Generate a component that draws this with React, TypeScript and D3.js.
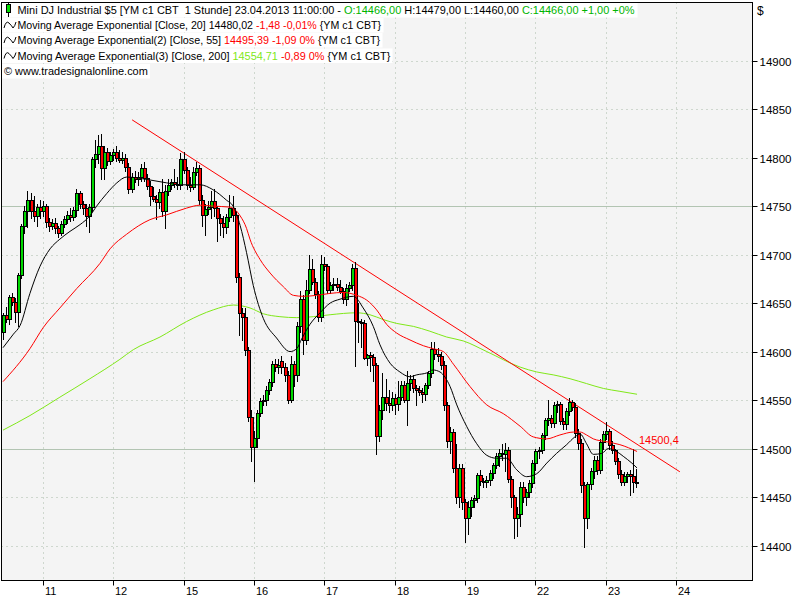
import React, { useLayoutEffect, useRef } from "react";
import * as d3 from "d3";

// ---------- DATA ----------
// hourly candles: [open, high, low, close]
const candles: [number, number, number, number][] = [
  [14620,14640,14613,14638],[14638,14646,14630,14634],[14634,14658,14628,14656],[14656,14660,14648,14651],
  [14651,14655,14630,14641],[14641,14681,14626,14679],[14679,14732,14676,14730],[14730,14750,14722,14745],
  [14745,14766,14728,14756],[14756,14764,14738,14745],[14745,14760,14735,14740],[14740,14752,14730,14749],
  [14749,14756,14738,14745],[14745,14755,14740,14750],[14750,14752,14728,14734],[14734,14738,14724,14730],
  [14730,14737,14726,14733],[14733,14738,14722,14727],[14727,14730,14718,14722],[14722,14735,14720,14732],
  [14732,14740,14728,14737],[14737,14745,14733,14741],[14741,14748,14735,14739],[14739,14749,14736,14746],
  [14746,14768,14740,14764],[14764,14766,14748,14752],[14752,14755,14742,14748],[14748,14752,14730,14740],
  [14740,14752,14723,14749],[14749,14801,14745,14799],[14799,14818,14790,14804],[14804,14823,14794,14812],
  [14812,14824,14778,14789],[14789,14812,14778,14806],[14806,14810,14792,14797],[14797,14806,14793,14803],
  [14803,14809,14798,14806],[14806,14812,14797,14800],[14800,14808,14796,14798],[14798,14806,14795,14800],
  [14800,14804,14786,14790],[14790,14795,14764,14768],[14768,14784,14765,14780],[14780,14786,14775,14778],
  [14778,14785,14772,14780],[14780,14793,14776,14789],[14789,14796,14776,14779],[14779,14783,14768,14771],
  [14771,14776,14751,14760],[14760,14770,14755,14757],[14757,14762,14737,14754],[14754,14768,14748,14765],
  [14765,14778,14740,14745],[14745,14772,14727,14766],[14766,14778,14762,14772],[14772,14778,14768,14775],
  [14775,14788,14770,14773],[14773,14780,14768,14772],[14772,14805,14768,14799],[14799,14806,14784,14787],
  [14787,14790,14768,14772],[14772,14780,14766,14770],[14770,14790,14768,14785],[14785,14796,14782,14789],
  [14789,14792,14752,14756],[14756,14762,14730,14741],[14741,14752,14720,14747],[14747,14755,14742,14749],
  [14749,14766,14738,14755],[14755,14768,14740,14748],[14748,14750,14714,14738],[14738,14742,14720,14733],
  [14733,14740,14718,14729],[14729,14742,14722,14739],[14739,14762,14735,14748],[14748,14760,14735,14741],
  [14741,14745,14672,14677],[14677,14681,14617,14640],[14640,14645,14612,14636],[14636,14645,14596,14602],
  [14602,14605,14528,14533],[14533,14540,14487,14502],[14502,14518,14467,14511],[14511,14540,14502,14537],
  [14537,14552,14534,14549],[14549,14555,14545,14550],[14550,14565,14545,14560],[14560,14572,14556,14569],
  [14569,14590,14565,14587],[14587,14592,14580,14584],[14584,14592,14578,14586],[14590,14595,14578,14584],
  [14584,14588,14570,14576],[14576,14580,14547,14550],[14550,14595,14548,14587],[14587,14590,14565,14576],
  [14576,14630,14570,14626],[14626,14662,14620,14654],[14654,14658,14598,14612],[14612,14674,14608,14664],
  [14664,14700,14660,14685],[14685,14695,14670,14672],[14672,14676,14655,14659],[14659,14662,14632,14636],
  [14636,14700,14632,14690],[14690,14698,14684,14688],[14688,14690,14660,14664],[14664,14672,14660,14669],
  [14669,14676,14664,14670],[14670,14676,14664,14667],[14667,14674,14660,14662],[14662,14666,14650,14654],
  [14654,14670,14648,14666],[14666,14672,14662,14669],[14669,14690,14664,14686],[14686,14692,14585,14632],
  [14632,14650,14610,14630],[14630,14634,14605,14629],[14629,14633,14592,14593],[14593,14598,14586,14596],
  [14596,14600,14580,14594],[14594,14597,14570,14586],[14586,14588,14494,14513],[14513,14545,14508,14540],
  [14540,14578,14530,14553],[14553,14572,14540,14547],[14547,14560,14538,14545],[14545,14558,14540,14552],
  [14552,14556,14536,14546],[14546,14570,14540,14553],[14553,14570,14550,14566],[14566,14570,14548,14550],
  [14550,14580,14524,14568],[14568,14576,14560,14572],[14572,14576,14558,14562],[14562,14566,14545,14560],
  [14560,14565,14555,14558],[14558,14562,14548,14556],[14556,14568,14550,14566],[14566,14580,14562,14578],
  [14578,14610,14574,14603],[14603,14610,14592,14597],[14597,14604,14590,14595],[14595,14600,14582,14586],
  [14586,14590,14540,14545],[14545,14548,14502,14508],[14508,14522,14495,14517],[14517,14520,14476,14480],
  [14480,14505,14444,14450],[14450,14484,14440,14480],[14480,14484,14438,14445],[14445,14448,14404,14428],
  [14428,14446,14412,14440],[14440,14450,14430,14447],[14447,14452,14440,14449],[14449,14475,14445,14473],
  [14473,14478,14462,14467],[14467,14470,14460,14465],[14465,14472,14460,14468],[14468,14478,14462,14475],
  [14475,14485,14470,14483],[14483,14495,14480,14492],[14492,14500,14482,14495],[14495,14505,14488,14494],
  [14494,14506,14477,14498],[14498,14502,14466,14469],[14469,14472,14440,14450],[14450,14452,14408,14428],
  [14428,14440,14410,14432],[14432,14465,14420,14460],[14460,14466,14445,14450],[14450,14458,14442,14455],
  [14455,14468,14450,14464],[14464,14488,14460,14485],[14485,14500,14478,14497],[14497,14502,14490,14499],
  [14499,14516,14495,14514],[14514,14532,14510,14529],[14529,14550,14524,14531],[14531,14535,14522,14526],
  [14526,14548,14522,14545],[14545,14549,14538,14546],[14546,14548,14525,14528],[14528,14532,14520,14525],
  [14525,14542,14520,14539],[14539,14552,14535,14548],[14548,14550,14540,14543],[14543,14547,14512,14516],
  [14516,14520,14500,14506],[14506,14510,14455,14462],[14462,14466,14398,14428],[14428,14465,14418,14463],
  [14463,14480,14458,14477],[14477,14492,14470,14488],[14488,14492,14474,14478],[14478,14510,14475,14507],
  [14507,14518,14500,14515],[14515,14527,14510,14518],[14518,14520,14500,14504],[14504,14508,14495,14499],
  [14499,14500,14484,14487],[14487,14490,14470,14474],[14474,14478,14462,14466],[14466,14476,14462,14472],
  [14472,14476,14465,14474],[14474,14478,14452,14472],[14472,14500,14455,14465],[14466,14479,14460,14466],
];

// indicator readings: [bar index, value]
const ema20: [number, number][] = [
  [0,14604],[3.4,14618],[5.6,14627],[8.8,14660],[12.1,14688],[15.4,14706],[18.6,14716],[21.9,14724],
  [25.2,14731],[28.4,14740],[30.6,14750],[33.9,14763],[37.2,14774],[40.4,14780],[48,14777],[53.5,14774],
  [57.8,14772],[64.4,14772],[68.6,14767],[73.1,14756],[75.2,14750],[77.5,14730],[79.6,14702],[81.8,14668],
  [85.1,14634],[89.4,14614],[93.8,14600],[96,14603],[97.6,14613],[100.3,14628],[103.6,14640],[106.9,14650],
  [110.1,14654],[114.5,14657],[117.7,14645],[121,14626],[123.2,14607],[126.5,14588],[129.7,14579],[133,14574],
  [135.2,14576],[138.5,14578],[140.5,14581],[142.8,14579],[146.1,14564],[148.3,14545],[151.5,14523],
  [154.8,14505],[158.1,14493],[161.3,14490],[164.6,14490],[167.9,14478],[171.1,14471],[174.4,14474],
  [177.7,14485],[180.9,14495],[184.2,14504],[186.9,14512],[188.6,14515],[190.7,14505],[192.9,14494],
  [195.7,14495],[197.8,14500],[200.5,14497],[202.7,14492],[205.5,14485],[207.2,14480],
];
const ema55: [number, number][] = [
  [0,14569],[8.8,14603],[13.2,14625],[18.6,14645],[24.1,14665],[31.7,14691],[35,14706],[40.4,14721],
  [48,14736],[53.5,14741],[60,14748],[64.4,14751],[68.7,14750],[74.2,14749],[77.5,14740],[79.6,14727],
  [80.7,14716],[84,14695],[87.3,14681],[91.6,14667],[94.9,14658],[98.1,14657],[102.5,14658],[106.9,14660],
  [111.2,14661],[115.6,14658],[118.9,14653],[122.1,14643],[125.4,14628],[128.7,14619],[133,14612],
  [137.4,14606],[140.6,14603],[143.9,14600],[147.2,14587],[152.6,14564],[158.1,14545],[163.5,14536],
  [169,14523],[173.3,14512],[177.7,14510],[182,14514],[186.4,14517],[188.6,14517],[190.7,14514],
  [192.9,14510],[197.3,14507],[201.6,14504],[207.2,14497],
];
const ema200: [number, number][] = [
  [0,14519],[8.8,14534],[18.6,14553],[28.4,14572],[38.2,14592],[42.6,14602],[51.3,14615],[60,14631],
  [68.7,14643],[75.3,14648],[80.7,14645],[85.1,14639],[90.5,14636],[96,14635],[101.4,14636],[106.9,14638],
  [115.6,14640],[119.9,14638],[124.3,14633],[128.7,14629],[134.1,14626],[139.5,14621],[145,14615],
  [150.4,14611],[158.1,14600],[169,14584],[174.4,14579],[179.8,14576],[185.3,14572],[190.7,14567],
  [196.2,14562],[201.6,14559],[207.2,14556],
];
const trendLine: [number, number][] = [[42.2, 14839], [221.2, 14476]];
const trendLabel = "14500,4";

const dayTickBars = [13, 36, 59, 82, 105, 128, 151, 174, 197, 220];
const dayLabels = ["11", "12", "15", "16", "17", "18", "19", "22", "23", "24"];
const priceTicks = [14400, 14450, 14500, 14550, 14600, 14650, 14700, 14750, 14800, 14850, 14900];
const solidLevels = [14750, 14500];

const GREEN_TXT = "#00b400";
const LIME = "#80e818";
const RED = "#ff0000";

const legendRows: { cy: number; x0: number; width: number; icon: string; parts: [string, string][] }[] = [
  { cy: 10, x0: 17.5, width: 618, icon: "candle", parts: [
    ["Mini DJ Industrial $5 [YM c1 CBT  1 Stunde] 23.04.2013 11:00:00 - ", "#000"],
    ["O:14466,00", GREEN_TXT], [" H:14479,00 L:14460,00 ", "#000"], ["C:14466,00 +1,00 +0%", GREEN_TXT]] },
  { cy: 25, x0: 17.5, width: 364, icon: "wave", parts: [
    ["Moving Average Exponential [Close, 20] 14480,02 ", "#000"], ["-1,48 -0,01%", RED], [" {YM c1 CBT}", "#000"]] },
  { cy: 40, x0: 17.5, width: 363, icon: "wave", parts: [
    ["Moving Average Exponential(2) [Close, 55] ", "#000"], ["14495,39 -1,09 0%", RED], [" {YM c1 CBT}", "#000"]] },
  { cy: 55.5, x0: 17.5, width: 373, icon: "wave", parts: [
    ["Moving Average Exponential(3) [Close, 200] ", "#000"], ["14554,71", LIME], [" -0,89 0%", RED], [" {YM c1 CBT}", "#000"]] },
  { cy: 71, x0: 4, width: 144, icon: "none", parts: [["© www.tradesignalonline.com", "#000"]] },
];

const FONT = "'Liberation Sans', Arial, sans-serif";

export default function App() {
  const textRefs = useRef<(SVGTextElement | null)[]>([]);

  useLayoutEffect(() => {
    // fit each legend row to the width it has in the reference by adjusting its font size
    legendRows.forEach((r, i) => {
      const el = textRefs.current[i];
      if (!el) return;
      el.setAttribute("font-size", "11");
      const w = el.getComputedTextLength();
      if (w > 0) el.setAttribute("font-size", String(Math.min(11.5, (11 * r.width) / w)));
    });
  }, []);

  const x = d3.scaleLinear().domain([0, 220]).range([3, 676.2]);
  const y = d3.scaleLinear().domain([14400, 14900]).range([545.5, 60.7]);
  const line = d3.line<[number, number]>().x(d => x(d[0])).y(d => y(d[1])).curve(d3.curveMonotoneX);
  const straight = d3.line<[number, number]>().x(d => x(d[0])).y(d => y(d[1]));

  const L = 1.5, T = 2.5, R = 752.5, B = 580.5;

  return (
    <svg width={800} height={600} style={{ position: "absolute", left: 0, top: 0 }} fontFamily={FONT}>
      <defs>
        <clipPath id="plotClip"><rect x={2} y={3} width={750} height={577} /></clipPath>
      </defs>
      <rect x={0} y={0} width={800} height={600} fill="#ffffff" />
      <rect x={L} y={T} width={R - L} height={B - T} fill="#f4f4f4" />

      {/* grid */}
      <g clipPath="url(#plotClip)">
        {priceTicks.map(v => {
          const yy = Math.round(y(v)) + 0.5;
          const solid = solidLevels.includes(v);
          return <line key={"h" + v} x1={L} x2={R} y1={yy} y2={yy}
            stroke={solid ? "#b2c4b2" : "#a9bba9"} strokeWidth={1}
            strokeDasharray={solid ? undefined : "1,4"} />;
        })}
        {dayTickBars.map(b => {
          const xx = Math.round(x(b)) + 0.5;
          return <line key={"v" + b} x1={xx} x2={xx} y1={T} y2={B} stroke="#a9bba9" strokeDasharray="1,4" />;
        })}
      </g>

      {/* legend */}
      {legendRows.map((r, i) => (
        <g key={"lg" + i}>
          <rect x={2} y={r.cy - 7} width={r.x0 + r.width} height={14.5} fill="#ffffff" />
          {r.icon === "candle" && (
            <g>
              <line x1={8.5} x2={8.5} y1={r.cy - 8} y2={r.cy + 7} stroke="#000" />
              <rect x={6.5} y={r.cy - 5.5} width={4} height={8} fill="#00dd00" stroke="#000" />
            </g>
          )}
          {r.icon === "wave" && (
            <path d={`M4,${r.cy + 3} Q6,${r.cy - 5} 9,${r.cy - 2} T13,${r.cy + 3} Q15,${r.cy + 1} 16,${r.cy - 3}`}
              fill="none" stroke="#000" strokeWidth={1} />
          )}
          <text ref={el => { textRefs.current[i] = el; }} x={r.x0} y={r.cy + 4} fontSize={11}
            style={{ whiteSpace: "pre" }}>
            {r.parts.map((p, j) => <tspan key={j} fill={p[1]}>{p[0]}</tspan>)}
          </text>
        </g>
      ))}

      {/* candles and indicators */}
      <g clipPath="url(#plotClip)">
        <path d={line(ema200) || ""} fill="none" stroke={LIME} strokeWidth={1} />
        <path d={straight(trendLine) || ""} fill="none" stroke={RED} strokeWidth={1} />
        {candles.map((c, i) => {
          const [o, h, l, cl] = c;
          const col = Math.round(x(i));
          const top = Math.round(y(Math.max(o, cl)));
          const bot = Math.round(y(Math.min(o, cl)));
          const bh = Math.max(bot - top, 1);
          const color = cl >= o ? "#00d800" : "#ff0000";
          return (
            <g key={"c" + i}>
              <line x1={col + 0.5} x2={col + 0.5} y1={Math.round(y(h))} y2={Math.round(y(l)) + 1} stroke="#000" />
              <rect x={col - 1} y={top} width={4} height={bh + 1} fill="#000" shapeRendering="crispEdges" />
              {bh > 1 && <rect x={col} y={top + 1} width={2} height={bh - 1} fill={color} shapeRendering="crispEdges" />}
            </g>
          );
        })}
        <path d={line(ema55) || ""} fill="none" stroke={RED} strokeWidth={1} />
        <path d={line(ema20) || ""} fill="none" stroke="#000" strokeWidth={1} />
        <text x={639} y={444} fontSize={11} fill={RED}>{trendLabel}</text>
      </g>

      {/* border */}
      <rect x={L} y={T} width={R - L} height={B - T} fill="none" stroke="#000" strokeWidth={1} />

      {/* right axis */}
      {priceTicks.map(v => {
        const yy = Math.round(y(v)) + 0.5;
        return (
          <g key={"yl" + v}>
            <line x1={R} x2={R + 5} y1={yy} y2={yy} stroke="#000" />
            <text x={R + 7} y={yy + 4} fontSize={11.5} fill="#000">{v}</text>
          </g>
        );
      })}
      <text x={757} y={15} fontSize={12} fill="#000">$</text>

      {/* bottom axis */}
      {dayTickBars.map((b, i) => {
        const xx = Math.round(x(b)) + 0.5;
        return (
          <g key={"xl" + b}>
            <line x1={xx} x2={xx} y1={B} y2={B + 5} stroke="#000" />
            <text x={xx + 1.5} y={595} fontSize={11} fill="#000">{dayLabels[i]}</text>
          </g>
        );
      })}
    </svg>
  );
}
